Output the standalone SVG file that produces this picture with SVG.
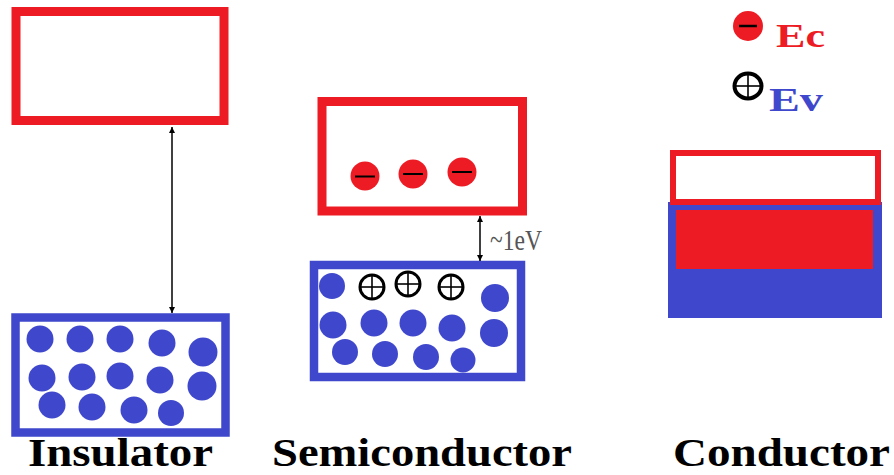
<svg xmlns="http://www.w3.org/2000/svg" width="894" height="475" viewBox="0 0 894 475">
<defs>
<style>
.cb{fill:none;stroke:#ED1C24;stroke-width:9}
.vb{fill:none;stroke:#3F48CC;stroke-width:8.5}
.d{fill:#3F48CC}
.e{fill:#ED1C24}
.m{stroke:#000;stroke-width:2}
.h{fill:#fff;stroke:#000;stroke-width:3}
.hx{stroke:#000;stroke-width:1.6}
.lbl{font-family:"Liberation Serif","Times New Roman",serif;font-weight:bold;font-size:40px;fill:#000}
.arr{stroke:#000;stroke-width:1.5;fill:none}
</style>
<marker id="ah" viewBox="0 0 10 10" refX="10" refY="5" markerWidth="6" markerHeight="7" markerUnits="userSpaceOnUse" orient="auto-start-reverse">
<path d="M0,0 L10,5 L0,10 z" fill="#000"/>
</marker>
</defs>
<rect width="894" height="475" fill="#fff"/>

<g id="insulator">
<rect class="cb" x="16" y="11.5" width="208" height="109"/>
<rect class="vb" x="15.5" y="317.5" width="210" height="115"/>
<g class="d">
<circle cx="40" cy="339" r="13.5"/>
<circle cx="80" cy="339" r="13.5"/>
<circle cx="120" cy="339" r="13.5"/>
<circle cx="162" cy="343" r="13.5"/>
<circle cx="203" cy="352" r="14.5"/>
<circle cx="42" cy="378" r="13.5"/>
<circle cx="82" cy="377" r="13.5"/>
<circle cx="120" cy="376" r="13.5"/>
<circle cx="160" cy="380" r="13.5"/>
<circle cx="202" cy="386" r="14.5"/>
<circle cx="52" cy="405" r="13.5"/>
<circle cx="92" cy="407" r="13.5"/>
<circle cx="134" cy="410" r="13.5"/>
<circle cx="171" cy="413" r="13"/>
</g>
<text class="lbl" x="28" y="466" textLength="185" lengthAdjust="spacingAndGlyphs">Insulator</text>
</g>

<g id="semiconductor">
<rect class="cb" x="322" y="101.5" width="200.5" height="109.5"/>
<rect class="vb" x="314" y="265" width="207" height="112"/>
<g class="e">
<circle cx="365" cy="176" r="14.5"/>
<circle cx="413" cy="174" r="14.5"/>
<circle cx="462" cy="172" r="14.5"/>
</g>
<line class="m" x1="355" y1="176.5" x2="375" y2="176.5"/>
<line class="m" x1="403" y1="174" x2="423" y2="174"/>
<line class="m" x1="452" y1="172" x2="472" y2="172"/>
<g class="d">
<circle cx="332" cy="286" r="13"/>
<circle cx="495" cy="298" r="14"/>
<circle cx="333" cy="325" r="13.5"/>
<circle cx="374" cy="323" r="13.5"/>
<circle cx="413" cy="323" r="13.5"/>
<circle cx="452" cy="328" r="13.5"/>
<circle cx="494" cy="333" r="14"/>
<circle cx="345" cy="352" r="13"/>
<circle cx="385" cy="354" r="13"/>
<circle cx="426" cy="357" r="13"/>
<circle cx="463" cy="360" r="12.5"/>
</g>
<circle class="h" cx="372" cy="287" r="12"/>
<line class="hx" x1="360" y1="287" x2="384" y2="287"/><line class="hx" x1="372" y1="275" x2="372" y2="299"/>
<circle class="h" cx="408" cy="284" r="12"/>
<line class="hx" x1="396" y1="284" x2="420" y2="284"/><line class="hx" x1="408" y1="272" x2="408" y2="296"/>
<circle class="h" cx="451" cy="287" r="12"/>
<line class="hx" x1="439" y1="287" x2="463" y2="287"/><line class="hx" x1="451" y1="275" x2="451" y2="299"/>
<text x="490" y="250" font-family="'Liberation Serif','Times New Roman',serif" font-size="30" fill="#555" textLength="52" lengthAdjust="spacingAndGlyphs">~1eV</text>
<text class="lbl" x="272" y="466" textLength="300" lengthAdjust="spacingAndGlyphs">Semiconductor</text>
</g>

<g id="conductor">
<rect x="668" y="202" width="214" height="116" fill="#3F48CC"/>
<rect x="673" y="153" width="205" height="49" fill="none" stroke="#ED1C24" stroke-width="6"/>
<rect x="676" y="210" width="197" height="59" fill="#ED1C24"/>
<text class="lbl" x="673" y="466" textLength="217" lengthAdjust="spacingAndGlyphs">Conductor</text>
</g>

<g id="legend">
<circle class="e" cx="748" cy="26" r="15"/>
<line x1="739" y1="26" x2="757" y2="26" stroke="#000" stroke-width="2.5"/>
<text x="776" y="47" font-family="'Liberation Serif','Times New Roman',serif" font-weight="bold" font-size="33" fill="#ED1C24" textLength="49" lengthAdjust="spacingAndGlyphs">Ec</text>
<ellipse cx="748" cy="86" rx="13.5" ry="12.5" fill="#fff" stroke="#000" stroke-width="4"/>
<line class="hx" x1="735" y1="86" x2="761" y2="86"/><line class="hx" x1="748" y1="74" x2="748" y2="98"/>
<text x="769" y="111" font-family="'Liberation Serif','Times New Roman',serif" font-weight="bold" font-size="33" fill="#3F48CC" textLength="54" lengthAdjust="spacingAndGlyphs">Ev</text>
</g>

<g id="connectors">
<line class="arr" x1="172" y1="127" x2="172" y2="313" marker-start="url(#ah)" marker-end="url(#ah)"/>
<line class="arr" x1="480" y1="216" x2="480" y2="261" marker-start="url(#ah)" marker-end="url(#ah)"/>
</g>
</svg>
